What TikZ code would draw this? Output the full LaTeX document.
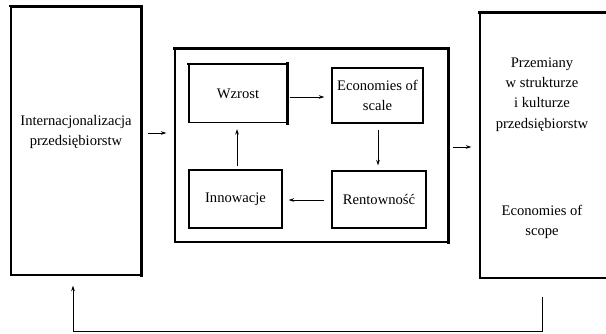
\documentclass[tikz,border=0pt]{standalone}
\usepackage{fontspec}
\setmainfont{Liberation Serif}
\usetikzlibrary{arrows.meta,calc}
\tikzset{
  frame/.style={draw, line width=1.1pt, inner sep=0pt},
  heavy/.style={line width=#1, line cap=rect},
  txt/.style={align=center, inner sep=0pt, font=\fontsize{14.6}{20.3}\selectfont},
  link/.style={line width=0.9pt, -{Stealth[length=5.5pt,width=3.6pt]}}
}
\begin{document}
\begin{tikzpicture}[x=1pt,y=-1pt]
\useasboundingbox (0,0) rectangle (606,333);
\clip (0,0) rectangle (606,333);

% outer blocks
\node[frame, minimum width=130, minimum height=268] (L) at (76,141) {};
\node[txt] (Lt) at (76,132) {Internacjonalizacja\\przedsiębiorstw};

\node[frame, minimum width=273, minimum height=193] (M) at (311.5,145.5) {};

% the right-hand block runs on past the right margin
\node[frame, minimum width=200, minimum height=265] (P) at (580,145.5) {};
\node[txt] (Pt) at (542,94.5) {Przemiany\\w strukturze\\i kulturze\\przedsiębiorstw};
\node[txt] (Ps) at (542,222) {Economies of\\scope};

% inner cycle
\node[frame, minimum width=98, minimum height=58, txt] (W) at (238,93.5) {Wzrost};
\node[frame, minimum width=91, minimum height=55, txt] (E) at (377.5,95.5) {Economies of\\scale};
\node[frame, minimum width=93, minimum height=58, txt] (I) at (235.5,199) {Innowacje};
\node[frame, minimum width=94, minimum height=57, txt] (R) at (379,199.5) {Rentowność};

% heavier top and right edges
\draw[heavy=2pt] (L.north west) -- (L.north east);
\draw[heavy=3.6pt] (L.north east) -- (L.south east);
\draw[heavy=2.4pt] (M.north west) -- (M.north east);
\draw[heavy=3pt] (M.north east) -- (M.south east);
\draw[heavy=2pt] (W.north west) -- (W.north east);
\draw[heavy=3pt] (W.north east) -- (W.south east);
\draw[heavy=1.8pt] (R.north east) -- (R.south east);
\draw[heavy=2.6pt] (P.north west) -- (P.north east);

% connectors
\draw[link, shorten <=6pt, shorten >=8pt] (L.east |- 0,133) -- (M.west |- 0,133);
\draw[link, shorten <=4pt, shorten >=8pt] (M.east |- 0,147) -- (P.west |- 0,147);
\draw[link, shorten <=2pt, shorten >=7pt] (W.east |- 0,97) -- (E.west |- 0,97);
\draw[link, shorten <=6pt, shorten >=5pt] (E.south -| 378,0) -- (R.north -| 378,0);
\draw[link, shorten <=7pt, shorten >=6pt] (R.west |- 0,200) -- (I.east |- 0,200);
\draw[link, shorten <=3pt, shorten >=6pt] (I.north -| 237,0) -- (W.south -| 237,0);

% feedback loop
\coordinate (fbR) at (542,331);
\coordinate (fbL) at (73,331);
\draw[link, shorten <=18pt, shorten >=10pt] (P.south -| fbR) -- (fbR) -- (fbL) -- (L.south -| fbL);
\end{tikzpicture}
\end{document}
